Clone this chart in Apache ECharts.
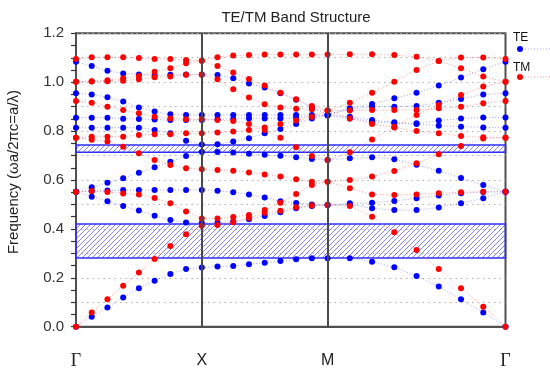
<!DOCTYPE html>
<html><head><meta charset="utf-8">
<script src="https://cdn.jsdelivr.net/npm/echarts@6/dist/echarts.min.js"></script>
<style>html,body{margin:0;padding:0;background:#fff}#c{width:550px;height:372px}</style>
</head><body><div id="c"></div>
<script>
// k-path distance (units of 2π/a): Γ→X→M→Γ
const kPath = [0, 0.0625, 0.125, 0.1875, 0.25, 0.3125, 0.375, 0.4375, 0.5,
  0.5625, 0.625, 0.6875, 0.75, 0.8125, 0.875, 0.9375, 1.0,
  1.0884, 1.1768, 1.2652, 1.3536, 1.4419, 1.5303, 1.6187, 1.7071];
const kLabelPos = [0, 0.5, 1.0, 1.7071];
const kLabels = ['Γ', 'X', 'M', 'Γ'];
const yTicks = [0, 0.2, 0.4, 0.6, 0.8, 1.0, 1.2];

// TE bands (blue)
const te1 = [0, 0.041, 0.079, 0.119, 0.157, 0.188, 0.216, 0.236, 0.242, 0.246, 0.248, 0.255, 0.262, 0.269, 0.276, 0.280, 0.280, 0.280, 0.266, 0.243, 0.207, 0.164, 0.112, 0.058, 0];
const te2 = [0.552, 0.532, 0.513, 0.494, 0.475, 0.454, 0.436, 0.426, 0.424, 0.425, 0.430, 0.439, 0.453, 0.468, 0.484, 0.494, 0.498, 0.500, 0.484, 0.477, 0.477, 0.488, 0.505, 0.525, 0.552];
const te3 = [0.552, 0.555, 0.557, 0.559, 0.559, 0.559, 0.559, 0.559, 0.559, 0.556, 0.550, 0.541, 0.528, 0.513, 0.506, 0.500, 0.498, 0.505, 0.507, 0.514, 0.525, 0.537, 0.546, 0.551, 0.552];
const te4 = [0.552, 0.570, 0.589, 0.607, 0.630, 0.652, 0.675, 0.698, 0.715, 0.715, 0.712, 0.707, 0.703, 0.699, 0.693, 0.686, 0.682, 0.689, 0.693, 0.685, 0.662, 0.638, 0.608, 0.580, 0.552];
const te5 = [0.814, 0.814, 0.814, 0.814, 0.814, 0.805, 0.791, 0.761, 0.745, 0.746, 0.757, 0.771, 0.791, 0.809, 0.829, 0.852, 0.864, 0.852, 0.838, 0.832, 0.829, 0.822, 0.818, 0.815, 0.814];
const te6 = [0.855, 0.855, 0.855, 0.851, 0.850, 0.847, 0.845, 0.845, 0.845, 0.848, 0.850, 0.852, 0.852, 0.852, 0.855, 0.860, 0.866, 0.859, 0.845, 0.836, 0.832, 0.843, 0.852, 0.856, 0.856];
const te7 = [0.955, 0.950, 0.938, 0.921, 0.897, 0.880, 0.869, 0.866, 0.866, 0.866, 0.866, 0.866, 0.866, 0.866, 0.866, 0.866, 0.866, 0.889, 0.900, 0.900, 0.903, 0.916, 0.931, 0.950, 0.955];
const te8 = [1.084, 1.066, 1.047, 1.036, 1.032, 1.028, 1.030, 1.031, 1.032, 1.029, 1.016, 0.995, 0.978, 0.955, 0.928, 0.897, 0.868, 0.893, 0.911, 0.934, 0.957, 0.986, 1.019, 1.053, 1.084];

// TM bands (red)
const tm1 = [0, 0.058, 0.112, 0.167, 0.222, 0.277, 0.330, 0.378, 0.413, 0.416, 0.427, 0.445, 0.466, 0.474, 0.489, 0.496, 0.498, 0.494, 0.450, 0.386, 0.314, 0.236, 0.157, 0.082, 0];
const tm2 = [0.551, 0.555, 0.551, 0.545, 0.541, 0.526, 0.505, 0.471, 0.443, 0.443, 0.449, 0.457, 0.477, 0.507, 0.543, 0.580, 0.593, 0.566, 0.541, 0.539, 0.541, 0.546, 0.550, 0.552, 0.552];
const tm3 = [0.773, 0.765, 0.757, 0.736, 0.709, 0.682, 0.661, 0.648, 0.644, 0.641, 0.638, 0.631, 0.623, 0.614, 0.603, 0.593, 0.593, 0.600, 0.614, 0.637, 0.668, 0.705, 0.739, 0.770, 0.773];
const tm4 = [0.773, 0.777, 0.777, 0.777, 0.784, 0.787, 0.787, 0.791, 0.791, 0.794, 0.798, 0.805, 0.815, 0.829, 0.843, 0.859, 0.884, 0.852, 0.829, 0.815, 0.800, 0.791, 0.780, 0.775, 0.773];
const tm5 = [0.923, 0.916, 0.900, 0.886, 0.873, 0.859, 0.852, 0.848, 0.848, 0.845, 0.841, 0.829, 0.805, 0.773, 0.734, 0.698, 0.682, 0.713, 0.766, 0.818, 0.866, 0.907, 0.948, 0.982, 1.002];
const tm6 = [1.002, 1.003, 1.004, 1.006, 1.012, 1.020, 1.023, 1.030, 1.030, 1.012, 0.971, 0.937, 0.910, 0.897, 0.891, 0.889, 0.884, 0.884, 0.886, 0.886, 0.886, 0.893, 0.900, 0.914, 0.923];
const tm7 = [1.002, 1.004, 1.008, 1.016, 1.025, 1.043, 1.057, 1.077, 1.088, 1.066, 1.040, 1.013, 0.986, 0.957, 0.930, 0.903, 0.884, 0.916, 0.957, 1.002, 1.050, 1.087, 1.101, 1.101, 1.095];
const tm8 = [1.095, 1.102, 1.102, 1.102, 1.099, 1.095, 1.095, 1.091, 1.088, 1.102, 1.109, 1.111, 1.113, 1.113, 1.113, 1.113, 1.113, 1.114, 1.114, 1.111, 1.104, 1.087, 1.057, 1.023, 1.002];

// TE band gaps (hatched)
const gapLow = [0.281, 0.714];
const gapHigh = [0.420, 0.743];

const teBands = [te1, te2, te3, te4, te5, te6, te7, te8];
const tmBands = [tm1, tm2, tm3, tm4, tm5, tm6, tm7, tm8];

// hatch pattern
const pc = document.createElement('canvas');
pc.width = 5; pc.height = 5;
const px = pc.getContext('2d');
px.strokeStyle = 'rgba(70,70,235,0.75)';
px.lineWidth = 0.9;
px.beginPath();
px.moveTo(-1, 6); px.lineTo(6, -1);
px.moveTo(-1, 1); px.lineTo(1, -1);
px.moveTo(4, 6); px.lineTo(6, 4);
px.stroke();

const chart = echarts.init(document.getElementById('c'), null, {renderer: 'canvas'});

function bandSeries(bands, name, color, lineColor, z) {
  return bands.map(b => ({
    name: name, type: 'line', z: z,
    data: kPath.map((k, i) => [k, b[i]]),
    symbol: 'circle', symbolSize: 6, showSymbol: true,
    itemStyle: {color: color},
    lineStyle: {color: lineColor, width: 1, type: [1, 2]},
    emphasis: {disabled: true}, animation: false
  }));
}

const series = [{
  type: 'line', data: [], z: 1, silent: true, animation: false,
  markArea: {
    silent: true,
    itemStyle: {color: {image: pc, repeat: 'repeat'}, borderColor: '#2f2fff', borderWidth: 1.5},
    data: gapLow.map((lo, i) => [{yAxis: lo}, {yAxis: gapHigh[i]}])
  },
  markLine: {
    silent: true, symbol: 'none', label: {show: false},
    lineStyle: {color: '#4a4a4a', width: 2, type: 'solid'},
    data: [{xAxis: kLabelPos[1]}, {xAxis: kLabelPos[2]}]
  }
}].concat(bandSeries(teBands, 'TE', '#0000ff', 'rgba(90,90,255,0.55)', 3))
  .concat(bandSeries(tmBands, 'TM', '#ff0000', 'rgba(255,80,80,0.55)', 4));

chart.setOption({
  animation: false,
  backgroundColor: '#fff',
  title: {
    text: 'TE/TM Band Structure', left: 291, top: 5, textAlign: 'center',
    textStyle: {fontFamily: 'Liberation Sans', fontSize: 15, fontWeight: 'normal', color: '#222'}
  },
  grid: {left: 76, right: 44.5, top: 33.3, bottom: 45.3, containLabel: false, outerBoundsMode: 'none',
    show: true, borderColor: '#505050', borderWidth: 2},
  xAxis: {
    type: 'value', min: 0, max: kLabelPos[3],
    axisLine: {show: true, lineStyle: {color: '#505050', width: 2}},
    axisTick: {show: false}, splitLine: {show: false},
    axisLabel: {
      customValues: kLabelPos, margin: 26,
      formatter: v => {
        const i = kLabelPos.findIndex(p => Math.abs(p - v) < 1e-3);
        if (i < 0) return '';
        return kLabels[i] === 'Γ' ? '{g|Γ}' : '{s|' + kLabels[i] + '}';
      },
      rich: {
        g: {fontFamily: 'Liberation Serif', fontSize: 18, color: '#222'},
        s: {fontFamily: 'Liberation Sans', fontSize: 16, color: '#222'}
      }
    }
  },
  yAxis: {
    type: 'value', min: 0, max: 1.2, interval: 0.1,
    name: 'Frequency (ωa/2πc=a/λ)', nameLocation: 'middle', nameGap: 55, nameMoveOverlap: false,
    nameTextStyle: {fontFamily: 'Liberation Sans', fontSize: 15, color: '#222', padding: [0, 0, 0, 16]},
    axisLine: {show: true, lineStyle: {color: '#505050', width: 2}},
    axisTick: {show: true, length: 5, lineStyle: {color: '#333', width: 1.2}},
    minorTick: {show: true, splitNumber: 2, length: 5, lineStyle: {color: '#333', width: 1.2}},
    axisLabel: {
      margin: 12, fontFamily: 'Liberation Sans', fontSize: 15, color: '#333',
      formatter: v => yTicks.some(t => Math.abs(t - v) < 1e-6) ? v.toFixed(1) : ''
    },
    splitLine: {show: true, lineStyle: {color: '#b0b0b0', width: 1, type: [1.5, 4]}}
  },
  graphic: [
    {type: 'text', left: 513, top: 32, style: {text: 'TE', font: '12px Liberation Sans', fill: '#111'}},
    {type: 'circle', shape: {cx: 520, cy: 49, r: 3}, style: {fill: '#0000ff'}},
    {type: 'line', shape: {x1: 525, y1: 49, x2: 550, y2: 49}, style: {stroke: 'rgba(90,90,255,0.55)', lineWidth: 1, lineDash: [1, 2]}},
    {type: 'text', left: 513, top: 62, style: {text: 'TM', font: '12px Liberation Sans', fill: '#111'}},
    {type: 'circle', shape: {cx: 520, cy: 77, r: 3}, style: {fill: '#ff0000'}},
    {type: 'line', shape: {x1: 525, y1: 77, x2: 550, y2: 77}, style: {stroke: 'rgba(255,80,80,0.55)', lineWidth: 1, lineDash: [1, 2]}}
  ],
  series: series
});
</script>
</body></html>
